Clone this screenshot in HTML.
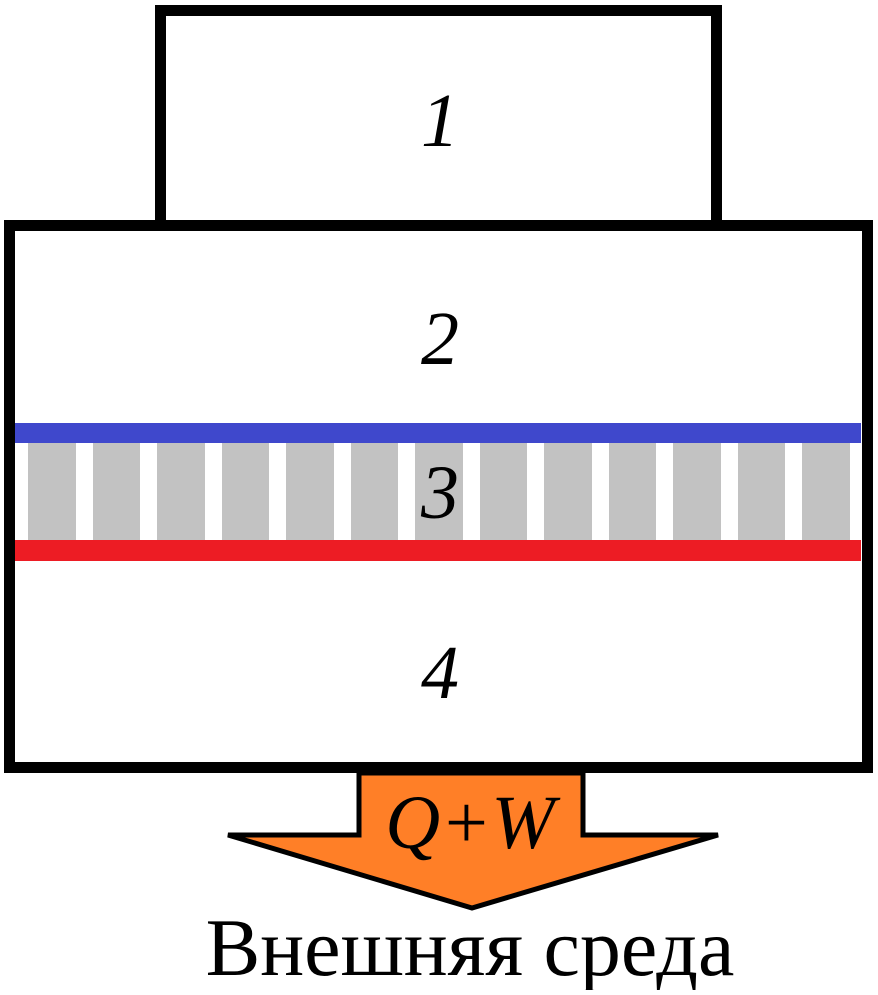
<!DOCTYPE html><html><head><style>body{margin:0;background:#fff}</style></head><body>
<svg width="878" height="990" viewBox="0 0 878 990" xmlns="http://www.w3.org/2000/svg">
<rect x="160.5" y="10.5" width="556" height="215" fill="#fff" stroke="#000" stroke-width="11"/>
<rect x="9.5" y="225.5" width="858" height="542" fill="#fff" stroke="#000" stroke-width="11"/>
<g fill="#c2c2c2">
<rect x="28" y="443" width="48" height="97"/><rect x="93" y="443" width="47" height="97"/><rect x="157" y="443" width="48" height="97"/><rect x="222" y="443" width="47" height="97"/><rect x="286" y="443" width="48" height="97"/><rect x="351" y="443" width="47" height="97"/><rect x="415" y="443" width="48" height="97"/><rect x="480" y="443" width="47" height="97"/><rect x="544" y="443" width="48" height="97"/><rect x="609" y="443" width="47" height="97"/><rect x="673" y="443" width="48" height="97"/><rect x="738" y="443" width="47" height="97"/><rect x="802" y="443" width="48" height="97"/>
</g>
<rect x="15" y="423" width="846" height="20" fill="#3f48cc"/>
<rect x="15" y="540" width="846" height="21" fill="#ed1c24"/>
<polygon points="359,773 583,773 583,835 718,835 472,908 228,835 359,835" fill="#ff7f27" stroke="#000" stroke-width="5" stroke-linejoin="miter"/>
<rect x="357" y="762" width="228" height="8" fill="#000"/>
<g font-family="Liberation Serif, serif" font-style="italic" font-size="76" text-anchor="middle" fill="#000">
<text x="440" y="146">1</text>
<text x="440" y="364">2</text>
<text x="440" y="518">3</text>
<text x="440" y="698">4</text>
<text x="470" y="848" font-size="76">Q+W</text>
</g>
<text x="470" y="975" font-family="Liberation Serif, serif" font-size="82" text-anchor="middle">Внешняя среда</text>
</svg>
</body></html>
